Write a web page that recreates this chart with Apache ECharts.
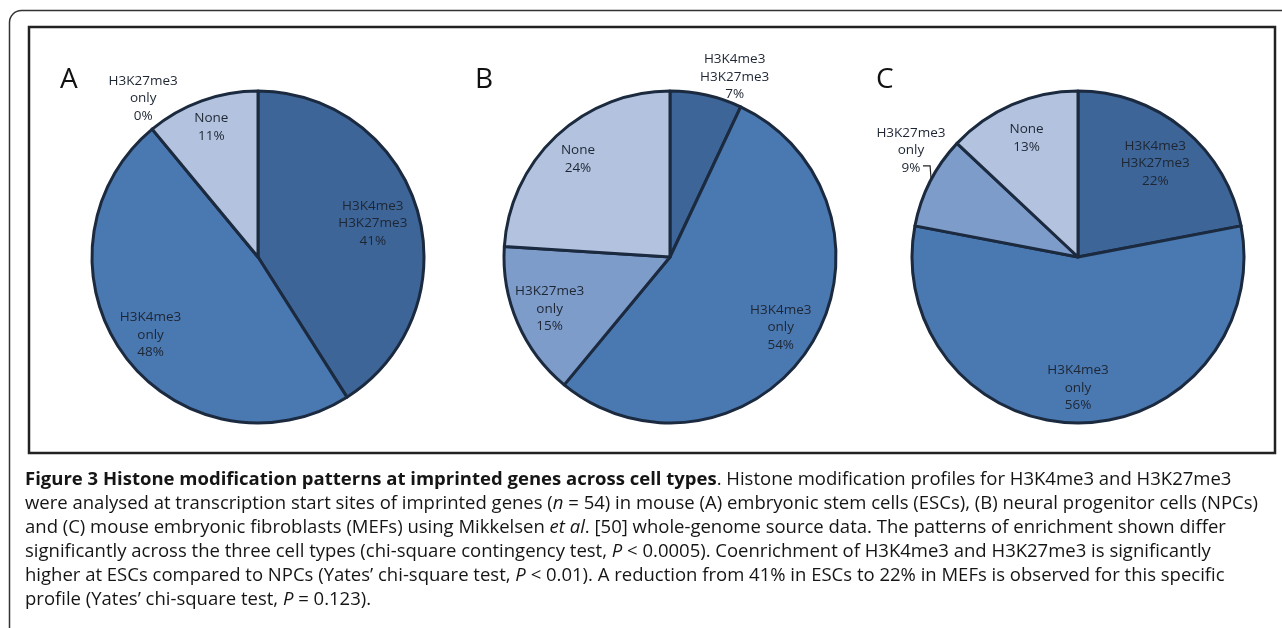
<!DOCTYPE html>
<html>
<head>
<meta charset="utf-8">
<script src="https://cdn.jsdelivr.net/npm/echarts@6/dist/echarts.min.js"></script>
<style>
html, body { margin: 0; padding: 0; background: #fff; }
#wrap { position: relative; width: 1282px; height: 628px; overflow: hidden; }
#pieChart { position: absolute; left: 0; top: 0; width: 1282px; height: 628px; }
#caption {
  position: absolute; left: 25px; top: 466px;
  font-family: 'Open Sans'; font-size: 18.5px; line-height: 24px;
  color: #151515; white-space: nowrap; transform-origin: 0 0;
}
#caption span { display: inline-block; }
</style>
</head>
<body>
<div id="wrap">
  <div id="pieChart"></div>
  <div id="caption">
    <span><b>Figure 3 Histone modification patterns at imprinted genes across cell types</b>. Histone modification profiles for H3K4me3 and H3K27me3</span><br>
    <span id="fitLine">were analysed at transcription start sites of imprinted genes (<i>n</i> = 54) in mouse (A) embryonic stem cells (ESCs), (B) neural progenitor cells (NPCs)</span><br>
    <span>and (C) mouse embryonic fibroblasts (MEFs) using Mikkelsen <i>et al</i>. [50] whole-genome source data. The patterns of enrichment shown differ</span><br>
    <span>significantly across the three cell types (chi-square contingency test, <i>P</i> &lt; 0.0005). Coenrichment of H3K4me3 and H3K27me3 is significantly</span><br>
    <span>higher at ESCs compared to NPCs (Yates’ chi-square test, <i>P</i> &lt; 0.01). A reduction from 41% in ESCs to 22% in MEFs is observed for this specific</span><br>
    <span>profile (Yates’ chi-square test, <i>P</i> = 0.123).</span>
  </div>
</div>
<script>
// slice order, clockwise from 12 o'clock
const categories = ['H3K4me3\nH3K27me3', 'H3K4me3\nonly', 'H3K27me3\nonly', 'None'];
const panelNames = ['A', 'B', 'C'];
const valuesA = [41, 48, 0, 11];   // ESCs
const valuesB = [7, 54, 15, 24];   // NPCs
const valuesC = [22, 56, 9, 13];   // MEFs

const sliceColors = ['#3d6598', '#4a78b1', '#7e9cca', '#b3c3df'];

// layout
const pieCenters = [[258, 257], [670, 257], [1078, 257]];
const pieRadius = 166;
const letterPos = [[60, 80], [475, 80], [876, 80]];
const labelLineH = 17.5;
// label distance from centre (fraction of radius) and small nudges
const labelRadius = [
  [0.72, 0.80, 1.17, 0.83],
  [1.15, 0.79, 0.79, 0.81],
  [0.73, 0.79, 1.19, 0.78]
];
const labelNudge = [
  [null, null, [9, -9], null],
  [[23, 6], null, null, null],
  [null, null, [9, -17], null]
];
const outsideLine = [null, null, 2]; // C: '9%' has a little leader line

let myChart = echarts.init(document.getElementById('pieChart'));
let option;

function buildSeries(vals, i) {
  return {
    type: 'pie',
    center: pieCenters[i],
    radius: pieRadius,
    startAngle: 90,
    clockwise: true,
    silent: true,
    animation: false,
    itemStyle: { borderColor: '#1b2a3f', borderWidth: 3 },
    label: {
      show: true,
      position: 'inside',
      formatter: '{b}\n{c}%',
      fontFamily: 'Open Sans',
      fontSize: 13.5,
      lineHeight: labelLineH,
      color: '#1e2633',
      align: 'center'
    },
    labelLine: { show: false },
    data: vals.map((v, j) => {
      let item = { name: categories[j], value: v, itemStyle: { color: sliceColors[j] } };
      if (outsideLine[i] === j) {
        item.label = { position: 'outside' };
        item.labelLine = { show: true, length: 8, length2: 4, lineStyle: { color: '#222', width: 1.2 } };
      }
      return item;
    }),
    labelLayout: function (params) {
      const c = pieCenters[params.seriesIndex];
      let px, py;
      const edge = params.labelLinePoints ? params.labelLinePoints[0] : null;
      if (edge) {
        px = edge[0];
        py = edge[1];
      } else {
        const lr = params.labelRect;
        px = lr.x + lr.width / 2;
        py = lr.y + lr.height / 2;
      }
      const dx = px - c[0], dy = py - c[1];
      const len = Math.sqrt(dx * dx + dy * dy) || 1;
      const k = labelRadius[params.seriesIndex][params.dataIndex] * pieRadius;
      const nudge = labelNudge[params.seriesIndex][params.dataIndex] || [0, 0];
      const x = c[0] + dx / len * k + nudge[0];
      const y = c[1] + dy / len * k + nudge[1];
      let out = { x: x, y: y, align: 'center', verticalAlign: 'middle' };
      if (edge) {
        // hook from the right of the last text line down to the slice edge
        const ly = y + labelLineH - 2;
        out.labelLinePoints = [[x + 12, ly], [edge[0], ly], [edge[0] + 1, edge[1] - 2]];
      }
      return out;
    }
  };
}

option = {
  animation: false,
  graphic: [
    {
      type: 'rect', silent: true, z: -10,
      shape: { x: 9.5, y: 10.5, width: 1300, height: 660, r: 12 },
      style: { fill: 'none', stroke: '#333', lineWidth: 1.5 }
    },
    {
      type: 'rect', silent: true, z: -10,
      shape: { x: 29, y: 27, width: 1246, height: 426 },
      style: { fill: 'none', stroke: '#222', lineWidth: 2.5 }
    }
  ].concat(panelNames.map((name, i) => ({
    type: 'text', silent: true,
    x: letterPos[i][0], y: letterPos[i][1],
    style: {
      text: name, fontFamily: 'Open Sans', fontSize: 28,
      fill: '#111', align: 'left', verticalAlign: 'middle'
    }
  }))),
  series: [valuesA, valuesB, valuesC].map(buildSeries)
};
myChart.setOption(option);

// squeeze caption to the width of the original typesetting
function fitCaption() {
  const w = document.getElementById('fitLine').getBoundingClientRect().width;
  document.getElementById('caption').style.transform = 'scaleX(' + (1251 / w) + ')';
}
fitCaption();
if (document.fonts && document.fonts.ready) document.fonts.ready.then(fitCaption);
</script>
</body>
</html>
